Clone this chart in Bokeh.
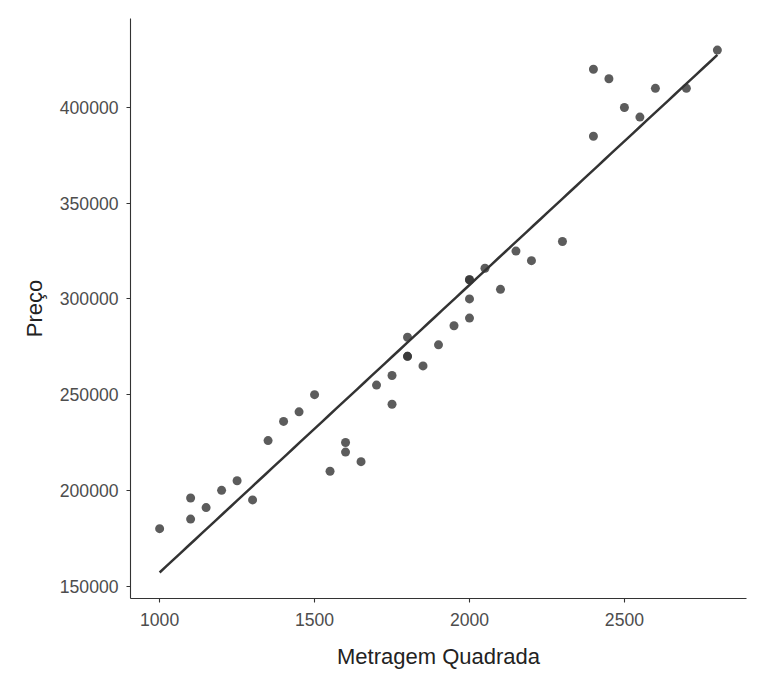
import numpy as np
from bokeh.plotting import figure
from bokeh.models import Range1d, FixedTicker
from bokeh.embed import file_html
from bokeh.resources import INLINE

metragem = [1000, 1100, 1100, 1150, 1200, 1250, 1300, 1350, 1400, 1450, 1500,
            1550, 1600, 1600, 1650, 1700, 1750, 1750, 1800, 1800, 1800, 1850,
            1900, 1950, 2000, 2000, 2000, 2000, 2050, 2100, 2150, 2200, 2300,
            2400, 2400, 2450, 2500, 2550, 2600, 2700, 2800]
preco = [180000, 196000, 185000, 191000, 200000, 205000, 195000, 226000, 236000,
         241000, 250000, 210000, 225000, 220000, 215000, 255000, 260000, 245000,
         280000, 270000, 270000, 265000, 276000, 286000, 310000, 310000, 300000,
         290000, 316000, 305000, 325000, 320000, 330000, 420000, 385000, 415000,
         400000, 395000, 410000, 410000, 430000]
x_ticks = [1000, 1500, 2000, 2500]
y_ticks = [150000, 200000, 250000, 300000, 350000, 400000]

slope, intercept = np.polyfit(metragem, preco, 1)
fit_x = np.linspace(min(metragem), max(metragem), 80)
fit_y = intercept + slope * fit_x

p = figure(width=768, height=687, output_backend="svg", toolbar_location=None,
           x_range=Range1d(906, 2894), y_range=Range1d(143500, 446500),
           min_border_left=130, min_border_right=22, min_border_top=18,
           min_border_bottom=89)
p.outline_line_color = None
p.xgrid.visible = False
p.ygrid.visible = False
p.background_fill_color = "white"
p.border_fill_color = "white"

p.line(fit_x, fit_y, line_color="#333333", line_width=2.5)
p.scatter(metragem, preco, size=9, fill_color="#333333", line_color=None,
          fill_alpha=0.8)

for ax, ticks in ((p.xaxis[0], x_ticks), (p.yaxis[0], y_ticks)):
    ax.ticker = FixedTicker(ticks=ticks)
    ax.axis_line_color = "#333333"
    ax.axis_line_width = 1.1
    ax.major_tick_line_color = "#333333"
    ax.major_tick_line_width = 1.1
    ax.major_tick_out = 4
    ax.major_tick_in = 0
    ax.minor_tick_line_color = None
    ax.major_label_text_font = "Liberation Sans"
    ax.major_label_text_font_size = "17.6px"
    ax.major_label_text_color = "#4D4D4D"
    ax.axis_label_text_font = "Liberation Sans"
    ax.axis_label_text_font_size = "22px"
    ax.axis_label_text_font_style = "normal"
    ax.axis_label_text_color = "#222222"

p.xaxis.axis_label = "Metragem Quadrada"
p.yaxis.axis_label = "Preço"
p.xaxis.major_label_standoff = 10
p.yaxis.major_label_standoff = 8
p.xaxis.axis_label_standoff = 15
p.yaxis.axis_label_standoff = 10
p.yaxis.formatter.use_scientific = False

open("out.html", "w").write(file_html(p, INLINE))
